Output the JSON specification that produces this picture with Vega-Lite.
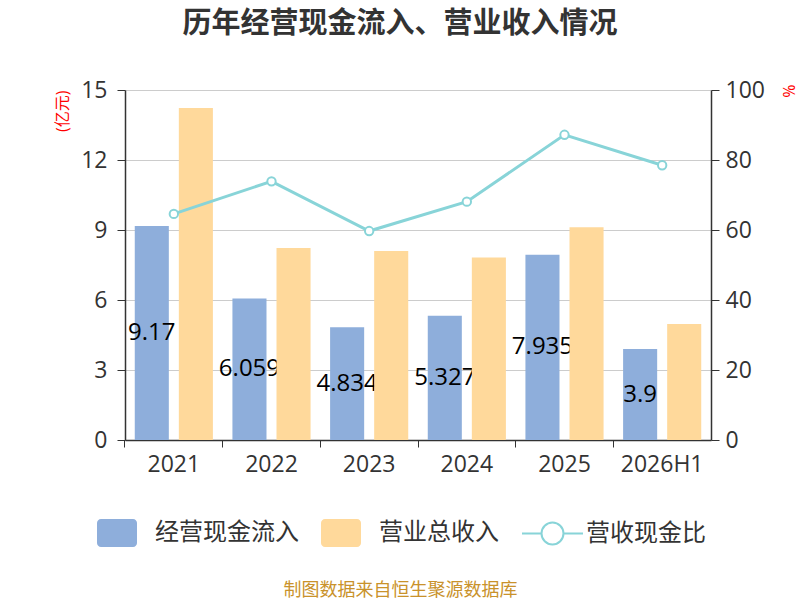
{
  "$schema": "https://vega.github.io/schema/vega-lite/v6.json",
  "width": 586,
  "height": 350,
  "autosize": "none",
  "padding": {"left": 125, "top": 90, "right": 89, "bottom": 160},
  "title": {
    "text": "历年经营现金流入、营业收入情况",
    "fontSize": 29,
    "fontWeight": "bold",
    "color": "#333333",
    "anchor": "middle",
    "dx": -18,
    "offset": 40
  },
  "data": {
    "values": [
      {"year": "2021", "经营现金流入": 9.17, "营业总收入": 14.23, "ratio": 64.6},
      {"year": "2022", "经营现金流入": 6.059, "营业总收入": 8.23, "ratio": 73.9},
      {"year": "2023", "经营现金流入": 4.834, "营业总收入": 8.1, "ratio": 59.7},
      {"year": "2024", "经营现金流入": 5.327, "营业总收入": 7.82, "ratio": 68.1},
      {"year": "2025", "经营现金流入": 7.935, "营业总收入": 9.12, "ratio": 87.2},
      {"year": "2026H1", "经营现金流入": 3.9, "营业总收入": 4.97, "ratio": 78.5}
    ]
  },
  "transform": [
    {"fold": ["经营现金流入", "营业总收入"], "as": ["type", "value"]}
  ],
  "layer": [
    {
      "transform": [{"filter": "datum.type == '经营现金流入'"}],
      "mark": {"type": "bar"},
      "encoding": {
        "x": {
          "field": "year",
          "type": "nominal",
          "sort": null,
          "scale": {"paddingInner": 0.2, "paddingOuter": 0.1},
          "axis": {
            "title": "制图数据来自恒生聚源数据库",
            "titleColor": "#C9922B",
            "titleFontSize": 18,
            "titleFontWeight": "normal",
            "titleX": 275,
            "titleY": 150,
            "titleBaseline": "middle",
            "labelAngle": 0,
            "labelFontSize": 23,
            "labelColor": "#333333",
            "labelPadding": 6,
            "bandPosition": -0.125,
            "tickSize": 7,
            "tickColor": "#333333",
            "domainColor": "#333333",
            "domainWidth": 1.5,
            "grid": false
          }
        },
        "xOffset": {
          "field": "type",
          "type": "nominal",
          "sort": ["经营现金流入", "营业总收入"],
          "scale": {"paddingInner": 0.227, "paddingOuter": 0}
        },
        "y": {
          "field": "value",
          "type": "quantitative",
          "scale": {"domain": [0, 15]},
          "axis": {
            "values": [0, 3, 6, 9, 12, 15],
            "title": "(亿元)",
            "titleColor": "red",
            "titleFontSize": 16,
            "titleFontWeight": "normal",
            "titleAngle": -90,
            "titleX": -63,
            "titleY": 0,
            "titleAlign": "right",
            "titleBaseline": "middle",
            "labelFontSize": 23,
            "labelColor": "#333333",
            "labelPadding": 10,
            "tickSize": 8,
            "tickColor": "#333333",
            "domainColor": "#333333",
            "domainWidth": 1.5,
            "gridColor": "#cccccc",
            "gridWidth": 1.2
          }
        },
        "color": {
          "field": "type",
          "type": "nominal",
          "scale": {"domain": ["经营现金流入", "营业总收入"], "range": ["#8EAEDB", "#FFD99B"]},
          "legend": {
            "title": null,
            "orient": "none",
            "direction": "horizontal",
            "legendX": -28,
            "legendY": 423,
            "symbolType": "M-0.8,-0.7 H0.8 A0.2,0.2 0 0 1 1,-0.5 V0.5 A0.2,0.2 0 0 1 0.8,0.7 H-0.8 A0.2,0.2 0 0 1 -1,0.5 V-0.5 A0.2,0.2 0 0 1 -0.8,-0.7 Z",
            "symbolSize": 1600,
            "symbolStrokeWidth": 0,
            "labelFontSize": 24,
            "labelColor": "#333333",
            "labelOffset": 18,
            "columnPadding": 22
          }
        }
      }
    },
    {
      "transform": [{"filter": "datum.type == '经营现金流入'"}],
      "mark": {"type": "text", "fontSize": 24, "color": "#000000", "baseline": "middle", "align": "center"},
      "encoding": {
        "x": {"field": "year", "type": "nominal", "sort": null},
        "xOffset": {"field": "type", "type": "nominal", "sort": ["经营现金流入", "营业总收入"]},
        "y": {"field": "value", "type": "quantitative", "scale": {"domain": [0, 30]}, "axis": null},
        "text": {"field": "value", "type": "quantitative"}
      }
    },
    {
      "transform": [{"filter": "datum.type == '营业总收入'"}],
      "mark": {"type": "bar"},
      "encoding": {
        "x": {"field": "year", "type": "nominal", "sort": null},
        "xOffset": {"field": "type", "type": "nominal", "sort": ["经营现金流入", "营业总收入"]},
        "y": {"field": "value", "type": "quantitative", "scale": {"domain": [0, 15]}, "axis": null},
        "color": {"field": "type", "type": "nominal"}
      }
    },
    {
      "transform": [{"filter": "datum.type == '经营现金流入'"}],
      "mark": {
        "type": "line",
        "strokeWidth": 3,
        "point": {"filled": false, "fill": "white", "size": 70, "strokeWidth": 2}
      },
      "encoding": {
        "x": {"field": "year", "type": "nominal", "sort": null},
        "y": {
          "field": "ratio",
          "type": "quantitative",
          "scale": {"domain": [0, 100]},
          "axis": {
            "orient": "right",
            "values": [0, 20, 40, 60, 80, 100],
            "grid": false,
            "title": "%",
            "titleColor": "red",
            "titleFontSize": 16,
            "titleFontWeight": "normal",
            "titleAngle": 90,
            "titleX": 76,
            "titleY": -6,
            "titleAlign": "left",
            "titleBaseline": "middle",
            "labelFontSize": 23,
            "labelColor": "#333333",
            "labelPadding": 6,
            "tickSize": 8,
            "tickColor": "#333333",
            "domainColor": "#333333",
            "domainWidth": 1.5
          }
        },
        "stroke": {
          "datum": "营收现金比",
          "type": "nominal",
          "scale": {"range": ["#88D4D8"]},
          "legend": {
            "title": null,
            "orient": "none",
            "legendX": 396,
            "legendY": 412,
            "symbolType": "M-1,0 L-0.36,0 M0.36,0 L1,0 M0.36,0 A0.36,0.36 0 1 0 -0.36,0 A0.36,0.36 0 1 0 0.36,0",
            "symbolSize": 3721,
            "symbolFillColor": "white",
            "symbolStrokeWidth": 2,
            "labelFontSize": 24,
            "labelColor": "#333333",
            "labelOffset": 2
          }
        }
      }
    }
  ],
  "resolve": {"scale": {"y": "independent"}},
  "config": {
    "font": "Open Sans, Noto Sans CJK SC",
    "view": {"stroke": null}
  }
}
